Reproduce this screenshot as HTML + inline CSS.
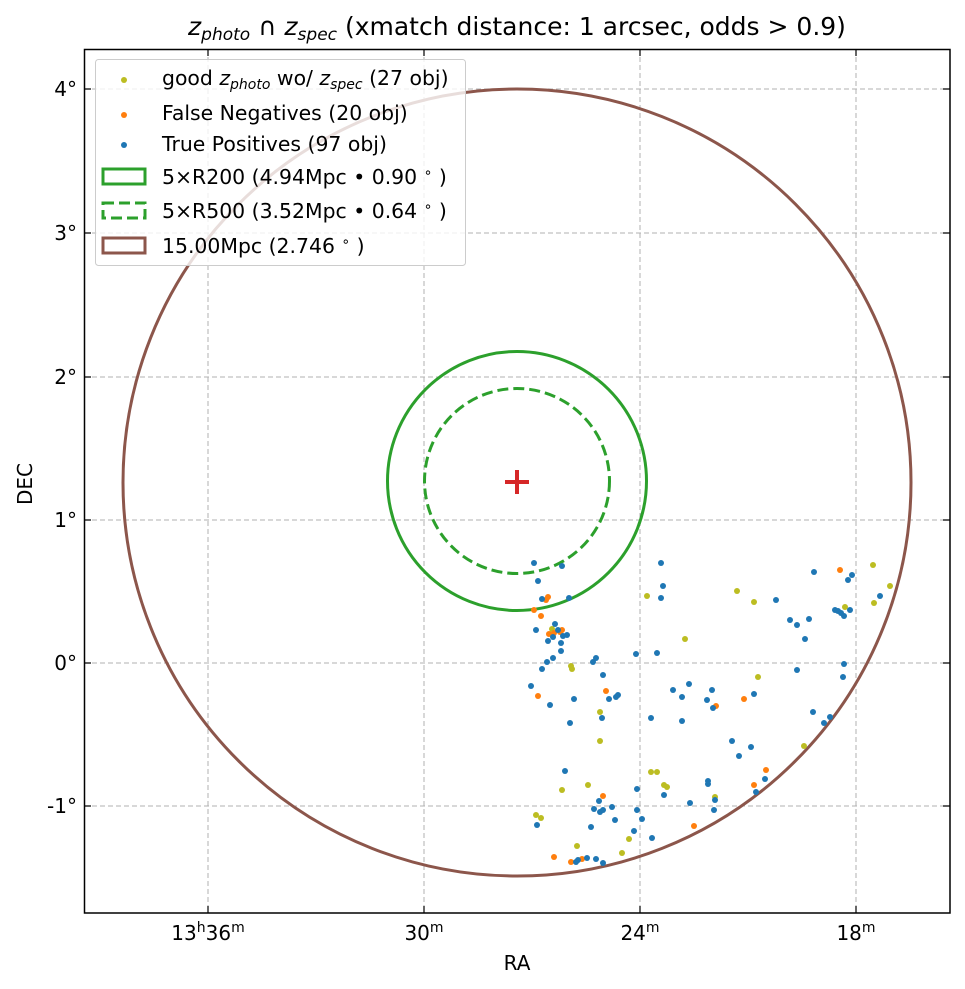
<!DOCTYPE html>
<html><head><meta charset="utf-8"><style>body{margin:0;background:#fff}svg{display:block}text{font-family:"DejaVu Sans","Liberation Sans",sans-serif;fill:#000}</style></head><body>
<svg width="965" height="989" viewBox="0 0 965 989" xmlns="http://www.w3.org/2000/svg">
<rect width="965" height="989" fill="#fff"/>
<g stroke="#b0b0b0" stroke-width="1" stroke-dasharray="5,3">
<line x1="208" y1="49" x2="208" y2="913"/><line x1="424" y1="49" x2="424" y2="913"/><line x1="640" y1="49" x2="640" y2="913"/><line x1="856" y1="49" x2="856" y2="913"/>
<line x1="84" y1="89" x2="950" y2="89"/><line x1="84" y1="233" x2="950" y2="233"/><line x1="84" y1="377" x2="950" y2="377"/><line x1="84" y1="520" x2="950" y2="520"/><line x1="84" y1="663" x2="950" y2="663"/><line x1="84" y1="806" x2="950" y2="806"/>
</g>
<ellipse cx="517" cy="482.5" rx="394" ry="393.5" fill="none" stroke="#8c564b" stroke-width="3"/>
<circle cx="517" cy="481" r="129.5" fill="none" stroke="#2ca02c" stroke-width="3"/>
<circle cx="517" cy="481" r="92.5" fill="none" stroke="#2ca02c" stroke-width="3" stroke-dasharray="11,5"/>
<path d="M505 482h24M517 470v24" stroke="#d62728" stroke-width="4"/>
<g fill="#bcbd22">
<circle cx="647" cy="596" r="3"/><circle cx="552" cy="629" r="3"/><circle cx="685" cy="639" r="3"/><circle cx="572" cy="669" r="3"/><circle cx="600" cy="712" r="3"/><circle cx="600" cy="741" r="3"/><circle cx="651" cy="772" r="3"/><circle cx="657" cy="772" r="3"/><circle cx="664" cy="785" r="3"/><circle cx="667" cy="787" r="3"/><circle cx="562" cy="790" r="3"/><circle cx="588" cy="785" r="3"/><circle cx="536" cy="815" r="3"/><circle cx="541" cy="818" r="3"/><circle cx="577" cy="846" r="3"/><circle cx="629" cy="839" r="3"/><circle cx="622" cy="853" r="3"/><circle cx="715" cy="797" r="3"/><circle cx="873" cy="565" r="3"/><circle cx="890" cy="586" r="3"/><circle cx="874" cy="603" r="3"/><circle cx="737" cy="591" r="3"/><circle cx="754" cy="602" r="3"/><circle cx="845" cy="607" r="3"/><circle cx="758" cy="677" r="3"/><circle cx="804" cy="746" r="3"/><circle cx="571" cy="666" r="3"/>
</g>
<g fill="#ff7f0e">
<circle cx="548" cy="597" r="3"/><circle cx="534" cy="610" r="3"/><circle cx="541" cy="616" r="3"/><circle cx="549" cy="634" r="3"/><circle cx="562" cy="630" r="3"/><circle cx="606" cy="691" r="3"/><circle cx="538" cy="696" r="3"/><circle cx="603" cy="796" r="3"/><circle cx="694" cy="826" r="3"/><circle cx="554" cy="857" r="3"/><circle cx="571" cy="862" r="3"/><circle cx="582" cy="859" r="3"/><circle cx="716" cy="706" r="3"/><circle cx="840" cy="570" r="3"/><circle cx="744" cy="699" r="3"/><circle cx="766" cy="770" r="3"/><circle cx="754" cy="785" r="3"/><circle cx="554" cy="633" r="3"/><circle cx="560" cy="632" r="3"/><circle cx="546" cy="600" r="3"/>
</g>
<g fill="#1f77b4">
<circle cx="534" cy="563" r="3"/><circle cx="562" cy="566" r="3"/><circle cx="538" cy="581" r="3"/><circle cx="542" cy="599" r="3"/><circle cx="569" cy="598" r="3"/><circle cx="661" cy="563" r="3"/><circle cx="663" cy="586" r="3"/><circle cx="661" cy="598" r="3"/><circle cx="536" cy="630" r="3"/><circle cx="555" cy="624" r="3"/><circle cx="558" cy="630" r="3"/><circle cx="553" cy="637" r="3"/><circle cx="548" cy="641" r="3"/><circle cx="563" cy="636" r="3"/><circle cx="567" cy="635" r="3"/><circle cx="561" cy="643" r="3"/><circle cx="561" cy="651" r="3"/><circle cx="547" cy="662" r="3"/><circle cx="553" cy="658" r="3"/><circle cx="542" cy="669" r="3"/><circle cx="593" cy="662" r="3"/><circle cx="596" cy="658" r="3"/><circle cx="636" cy="654" r="3"/><circle cx="657" cy="653" r="3"/><circle cx="603" cy="675" r="3"/><circle cx="531" cy="686" r="3"/><circle cx="550" cy="705" r="3"/><circle cx="574" cy="699" r="3"/><circle cx="609" cy="699" r="3"/><circle cx="616" cy="697" r="3"/><circle cx="618" cy="695" r="3"/><circle cx="602" cy="718" r="3"/><circle cx="570" cy="723" r="3"/><circle cx="651" cy="718" r="3"/><circle cx="673" cy="690" r="3"/><circle cx="682" cy="697" r="3"/><circle cx="689" cy="684" r="3"/><circle cx="682" cy="721" r="3"/><circle cx="707" cy="700" r="3"/><circle cx="712" cy="690" r="3"/><circle cx="713" cy="708" r="3"/><circle cx="565" cy="771" r="3"/><circle cx="637" cy="789" r="3"/><circle cx="664" cy="795" r="3"/><circle cx="599" cy="801" r="3"/><circle cx="594" cy="809" r="3"/><circle cx="600" cy="812" r="3"/><circle cx="603" cy="810" r="3"/><circle cx="612" cy="807" r="3"/><circle cx="637" cy="810" r="3"/><circle cx="642" cy="819" r="3"/><circle cx="615" cy="820" r="3"/><circle cx="591" cy="827" r="3"/><circle cx="634" cy="831" r="3"/><circle cx="652" cy="838" r="3"/><circle cx="537" cy="825" r="3"/><circle cx="708" cy="781" r="3"/><circle cx="708" cy="784" r="3"/><circle cx="690" cy="803" r="3"/><circle cx="715" cy="800" r="3"/><circle cx="714" cy="810" r="3"/><circle cx="578" cy="860" r="3"/><circle cx="576" cy="862" r="3"/><circle cx="603" cy="863" r="3"/><circle cx="814" cy="572" r="3"/><circle cx="852" cy="575" r="3"/><circle cx="848" cy="580" r="3"/><circle cx="776" cy="600" r="3"/><circle cx="835" cy="610" r="3"/><circle cx="838" cy="611" r="3"/><circle cx="841" cy="613" r="3"/><circle cx="844" cy="616" r="3"/><circle cx="850" cy="610" r="3"/><circle cx="880" cy="596" r="3"/><circle cx="790" cy="620" r="3"/><circle cx="797" cy="625" r="3"/><circle cx="809" cy="619" r="3"/><circle cx="805" cy="639" r="3"/><circle cx="844" cy="664" r="3"/><circle cx="797" cy="670" r="3"/><circle cx="843" cy="677" r="3"/><circle cx="754" cy="694" r="3"/><circle cx="813" cy="712" r="3"/><circle cx="830" cy="717" r="3"/><circle cx="824" cy="723" r="3"/><circle cx="732" cy="741" r="3"/><circle cx="751" cy="747" r="3"/><circle cx="739" cy="756" r="3"/><circle cx="765" cy="779" r="3"/><circle cx="756" cy="792" r="3"/><circle cx="587" cy="858" r="3"/><circle cx="596" cy="859" r="3"/>
</g>
<rect x="84.5" y="49.5" width="865.5" height="863.5" fill="none" stroke="#000" stroke-width="1.5"/>
<g stroke="#000" stroke-width="1.2">
<path d="M208 913v-7M424 913v-7M640 913v-7M856 913v-7M208 49v7M424 49v7M640 49v7M856 49v7"/>
<path d="M84 89h7M84 233h7M84 377h7M84 520h7M84 663h7M84 806h7M950 89h-7M950 233h-7M950 377h-7M950 520h-7M950 663h-7M950 806h-7"/>
</g>
<g font-size="20" text-anchor="end">
<text x="77" y="96">4°</text><text x="77" y="240">3°</text><text x="77" y="384">2°</text><text x="77" y="527">1°</text><text x="77" y="670">0°</text><text x="77" y="813">-1°</text>
</g>
<g font-size="20" text-anchor="middle">
<text x="208" y="940">13<tspan font-size="14" dy="-8">h</tspan><tspan dy="8">36</tspan><tspan font-size="14" dy="-8">m</tspan></text>
<text x="424" y="940">30<tspan font-size="14" dy="-8">m</tspan></text>
<text x="640" y="940">24<tspan font-size="14" dy="-8">m</tspan></text>
<text x="856" y="940">18<tspan font-size="14" dy="-8">m</tspan></text>
<text x="517" y="970">RA</text>
<text transform="translate(32,484) rotate(-90)">DEC</text>
<text x="517" y="35" font-size="25"><tspan font-style="italic">z</tspan><tspan font-style="italic" font-size="17" dy="5">photo</tspan><tspan dy="-5"> ∩ </tspan><tspan font-style="italic">z</tspan><tspan font-style="italic" font-size="17" dy="5">spec</tspan><tspan dy="-5"> (xmatch distance: 1 arcsec, odds &gt; 0.9)</tspan></text>
</g>
<rect x="95.5" y="59.5" width="370" height="206" rx="3" fill="#fff" fill-opacity="0.8" stroke="#ccc"/>
<circle cx="124" cy="80" r="3" fill="#bcbd22"/><circle cx="124" cy="115" r="3" fill="#ff7f0e"/><circle cx="124" cy="145" r="3" fill="#1f77b4"/>
<rect x="103" y="169" width="42" height="15" fill="none" stroke="#2ca02c" stroke-width="3"/>
<rect x="103" y="203" width="42" height="15" fill="none" stroke="#2ca02c" stroke-width="3" stroke-dasharray="11,5"/>
<rect x="103" y="238" width="42" height="15" fill="none" stroke="#8c564b" stroke-width="3"/>
<g font-size="20.4">
<text x="162" y="85">good <tspan font-style="italic">z</tspan><tspan font-style="italic" font-size="14" dy="4">photo</tspan><tspan dy="-4"> wo/ </tspan><tspan font-style="italic">z</tspan><tspan font-style="italic" font-size="14" dy="4">spec</tspan><tspan dy="-4"> (27 obj)</tspan></text>
<text x="162" y="120">False Negatives (20 obj)</text>
<text x="162" y="151">True Positives (97 obj)</text>
<text x="162" y="184">5×R200 (4.94Mpc • 0.90 <tspan font-size="14" dy="-7">∘</tspan><tspan dy="7"> )</tspan></text>
<text x="162" y="218">5×R500 (3.52Mpc • 0.64 <tspan font-size="14" dy="-7">∘</tspan><tspan dy="7"> )</tspan></text>
<text x="162" y="253">15.00Mpc (2.746 <tspan font-size="14" dy="-7">∘</tspan><tspan dy="7"> )</tspan></text>
</g>
</svg>
</body></html>
